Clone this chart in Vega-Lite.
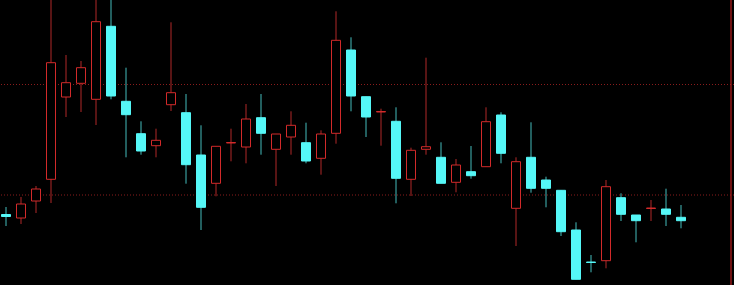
{
  "$schema": "https://vega.github.io/schema/vega-lite/v6.json",
  "width": 734,
  "height": 285,
  "autosize": {"type": "none"},
  "padding": 0,
  "background": "#000000",
  "config": {"view": {"stroke": null}},
  "datasets": {
    "candles": [
      {"i":0,"t":"down","o":70.5,"c":68.5,"h":78,"l":59},
      {"i":1,"t":"up","o":67,"c":81,"h":88,"l":61},
      {"i":2,"t":"up","o":84,"c":96,"h":99,"l":72},
      {"i":3,"t":"up","o":105.7,"c":222.3,"h":290,"l":82},
      {"i":4,"t":"up","o":188,"c":202.3,"h":230,"l":168},
      {"i":5,"t":"up","o":201.7,"c":217.3,"h":224,"l":173},
      {"i":6,"t":"up","o":185.7,"c":263.3,"h":290,"l":160},
      {"i":7,"t":"down","o":258.7,"c":189,"h":290,"l":185.7},
      {"i":8,"t":"down","o":183.7,"c":170.3,"h":217.3,"l":127.7},
      {"i":9,"t":"down","o":151.3,"c":134,"h":163.7,"l":130.3},
      {"i":10,"t":"up","o":139.3,"c":144.7,"h":156.3,"l":127.7},
      {"i":11,"t":"up","o":180.3,"c":192.3,"h":262.7,"l":174},
      {"i":12,"t":"down","o":172.3,"c":120.3,"h":191,"l":101.3},
      {"i":13,"t":"down","o":130,"c":77.7,"h":159.7,"l":55},
      {"i":14,"t":"up","o":101.7,"c":138.7,"h":138.7,"l":88.7},
      {"i":15,"t":"up","o":142,"c":142.5,"h":156.3,"l":123.7},
      {"i":16,"t":"up","o":138,"c":166,"h":181,"l":121.7},
      {"i":17,"t":"down","o":167.3,"c":151.7,"h":191,"l":130.3},
      {"i":18,"t":"up","o":135.7,"c":151,"h":151,"l":99},
      {"i":19,"t":"up","o":148,"c":159.7,"h":173.7,"l":130.3},
      {"i":20,"t":"down","o":142.3,"c":124,"h":162.3,"l":121.7},
      {"i":21,"t":"up","o":126.7,"c":151,"h":154.7,"l":110.3},
      {"i":22,"t":"up","o":151.7,"c":244.7,"h":273.7,"l":141.3},
      {"i":23,"t":"down","o":235,"c":189,"h":247.7,"l":173.7},
      {"i":24,"t":"down","o":188.3,"c":168,"h":188.3,"l":148},
      {"i":25,"t":"up","o":173,"c":173.5,"h":176.3,"l":139.3},
      {"i":26,"t":"down","o":163.7,"c":106.7,"h":177.7,"l":81.7},
      {"i":27,"t":"up","o":105.7,"c":134.7,"h":137.3,"l":89},
      {"i":28,"t":"up","o":135.7,"c":138.3,"h":227.3,"l":130.3},
      {"i":29,"t":"down","o":127.7,"c":101.7,"h":142.7,"l":101.7},
      {"i":30,"t":"up","o":102.7,"c":120,"h":126,"l":92.7},
      {"i":31,"t":"down","o":113.3,"c":109.3,"h":139,"l":106.3},
      {"i":32,"t":"up","o":118.3,"c":163.3,"h":177.7,"l":118.3},
      {"i":33,"t":"down","o":170,"c":131.7,"h":172.7,"l":121.7},
      {"i":34,"t":"up","o":76.7,"c":123.3,"h":127.7,"l":39},
      {"i":35,"t":"down","o":127.7,"c":96.7,"h":162.7,"l":92.3},
      {"i":36,"t":"down","o":105,"c":96.7,"h":108.3,"l":77.7},
      {"i":37,"t":"down","o":94.7,"c":53.3,"h":94.7,"l":49},
      {"i":38,"t":"down","o":55,"c":5.7,"h":62.7,"l":5.7},
      {"i":39,"t":"down","o":23,"c":22.5,"h":30,"l":12.7},
      {"i":40,"t":"up","o":24.3,"c":98.3,"h":105,"l":16.7},
      {"i":41,"t":"down","o":87.3,"c":70.7,"h":91.7,"l":64},
      {"i":42,"t":"down","o":70,"c":64.3,"h":70,"l":42.7},
      {"i":43,"t":"up","o":76.5,"c":77,"h":85,"l":64},
      {"i":44,"t":"down","o":76,"c":70.7,"h":96.3,"l":59},
      {"i":45,"t":"down","o":67.7,"c":64.3,"h":80,"l":56.7}
    ],
    "grid": [{"g": 200.5}, {"g": 90}],
    "edge": [{"e": 48.333}]
  },
  "layer": [
    {
      "data": {"name": "grid"},
      "mark": {"type": "rule", "color": "#8a1c1c", "strokeWidth": 1, "strokeDash": [1, 2]},
      "encoding": {
        "y": {"field": "g", "type": "quantitative", "scale": {"domain": [0, 285], "nice": false, "zero": false, "padding": 0}, "axis": null}
      }
    },
    {
      "data": {"name": "edge"},
      "mark": {"type": "rule", "color": "#b81e1e", "strokeWidth": 1.2},
      "encoding": {
        "x": {"field": "e", "type": "quantitative", "scale": {"domain": [-0.4, 48.5333], "nice": false, "zero": false, "padding": 0}, "axis": null}
      }
    },
    {
      "data": {"name": "candles"},
      "mark": {"type": "rule", "strokeWidth": 1, "clip": true},
      "encoding": {
        "x": {"field": "i", "type": "quantitative", "scale": {"domain": [-0.4, 48.5333], "nice": false, "zero": false, "padding": 0}, "axis": null},
        "y": {"field": "h", "type": "quantitative", "scale": {"domain": [0, 285], "nice": false, "zero": false, "padding": 0}, "axis": null},
        "y2": {"field": "l"},
        "color": {"field": "t", "type": "nominal", "scale": {"domain": ["up", "down"], "range": ["#b02828", "#45bcbc"]}, "legend": null}
      }
    },
    {
      "data": {"name": "candles"},
      "mark": {"type": "bar", "size": 9, "strokeWidth": 1, "clip": true},
      "encoding": {
        "x": {"field": "i", "type": "quantitative", "scale": {"domain": [-0.4, 48.5333], "nice": false, "zero": false, "padding": 0}, "axis": null},
        "y": {"field": "o", "type": "quantitative", "scale": {"domain": [0, 285], "nice": false, "zero": false, "padding": 0}, "axis": null},
        "y2": {"field": "c"},
        "fill": {"field": "t", "type": "nominal", "scale": {"domain": ["up", "down"], "range": ["#000000", "#55f7f7"]}, "legend": null},
        "stroke": {"field": "t", "type": "nominal", "scale": {"domain": ["up", "down"], "range": ["#d22a2a", "#55f7f7"]}, "legend": null}
      }
    }
  ],
  "resolve": {"scale": {"color": "independent", "fill": "independent", "stroke": "independent"}}
}
